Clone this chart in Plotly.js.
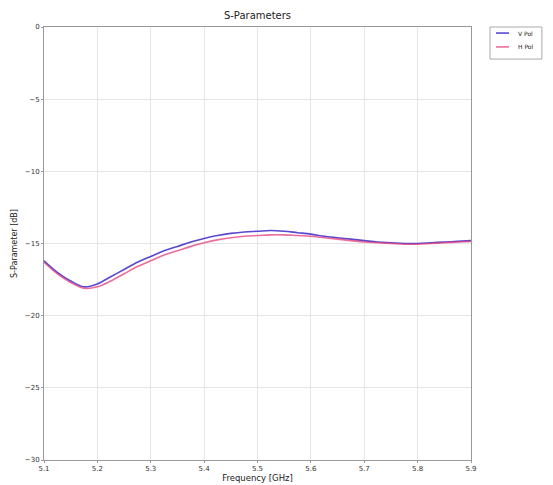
<!DOCTYPE html>
<html>
<head>
<meta charset="utf-8">
<script src="https://cdn.plot.ly/plotly-3.0.1.min.js"></script>
<style>html,body{margin:0;padding:0;background:#fff;}#chart{width:553px;height:485px;}</style>
</head>
<body>
<div id="chart"></div>
<script>
var freq = [5.100,5.125,5.150,5.175,5.200,5.225,5.250,5.275,5.300,5.325,5.350,5.375,5.400,5.425,5.450,5.475,5.500,5.525,5.550,5.575,5.600,5.625,5.650,5.675,5.700,5.725,5.750,5.775,5.800,5.825,5.850,5.875,5.900];
var vPol = [-16.2,-17.0,-17.6,-18.0,-17.8,-17.3,-16.8,-16.3,-15.9,-15.5,-15.2,-14.9,-14.65,-14.45,-14.3,-14.2,-14.15,-14.1,-14.15,-14.25,-14.35,-14.5,-14.6,-14.7,-14.8,-14.9,-14.95,-15.0,-15.0,-14.95,-14.9,-14.85,-14.8];
var hPol = [-16.3,-17.1,-17.7,-18.1,-18.0,-17.6,-17.1,-16.6,-16.2,-15.8,-15.5,-15.2,-14.95,-14.75,-14.6,-14.5,-14.45,-14.4,-14.4,-14.45,-14.5,-14.6,-14.7,-14.8,-14.9,-14.95,-15.0,-15.05,-15.05,-15.0,-14.95,-14.9,-14.85];
var seriesNames = ["V Pol","H Pol"];
var seriesColors = ['rgba(60,40,200,0.85)','rgba(230,60,120,0.75)'];
var xTicks = [5.1,5.2,5.3,5.4,5.5,5.6,5.7,5.8,5.9];
var yTicks = [0,-5,-10,-15,-20,-25,-30];

var traces = [
  {x: freq, y: vPol, name: seriesNames[0], mode: 'lines', line: {color: seriesColors[0], width: 1.6, shape: 'spline'}},
  {x: freq, y: hPol, name: seriesNames[1], mode: 'lines', line: {color: seriesColors[1], width: 1.6, shape: 'spline'}}
];

var axisCommon = {
  showline: true, mirror: true, linecolor: '#999', linewidth: 1,
  showgrid: true, gridcolor: '#e6e6e6', gridwidth: 1,
  zeroline: false, ticks: 'outside', ticklen: 2, tickcolor: '#999',
  tickfont: {family: 'DejaVu Sans', size: 7, color: '#333'}
};

// Legend drawn as a small box in paper coordinates (outside plot area)
var legShapes = [
  {type: 'rect', xref: 'paper', yref: 'paper', x0: 1.0445, x1: 1.166, y0: 0.926, y1: 1.0,
   line: {color: '#aaa', width: 1}, fillcolor: '#fff'}
];
var legAnn = [];
var legRows = [0.986, 0.954];
for (var i = 0; i < seriesNames.length; i++) {
  legShapes.push({type: 'line', xref: 'paper', yref: 'paper', x0: 1.0585, x1: 1.089, y0: legRows[i], y1: legRows[i],
    line: {color: seriesColors[i], width: 1.6}});
  legAnn.push({xref: 'paper', yref: 'paper', x: 1.105, y: legRows[i], xanchor: 'left', yanchor: 'middle',
    text: seriesNames[i], showarrow: false, font: {family: 'DejaVu Sans', size: 6, color: '#222'}});
}

var layout = {
  width: 553, height: 485,
  margin: {l: 44, r: 82, t: 27, b: 25, autoexpand: false},
  paper_bgcolor: '#fff', plot_bgcolor: '#fff',
  title: {text: 'S-Parameters', x: 0.5, xref: 'paper', y: 0.975, yref: 'container', font: {family: 'DejaVu Sans', size: 10, color: '#222'}},
  xaxis: Object.assign({}, axisCommon, {
    range: [5.1, 5.9], tickvals: xTicks, ticktext: xTicks.map(function(v){return v.toFixed(1);}),
    title: {text: 'Frequency [GHz]', standoff: 0, font: {family: 'DejaVu Sans', size: 8.5, color: '#222'}}
  }),
  yaxis: Object.assign({}, axisCommon, {
    range: [-30, 0], tickvals: yTicks,
    title: {text: 'S-Parameter [dB]', standoff: 6, font: {family: 'DejaVu Sans', size: 8, color: '#222'}}
  }),
  shapes: legShapes,
  annotations: legAnn,
  showlegend: false
};

Plotly.newPlot('chart', traces, layout, {displayModeBar: false, staticPlot: true});
</script>
</body>
</html>
